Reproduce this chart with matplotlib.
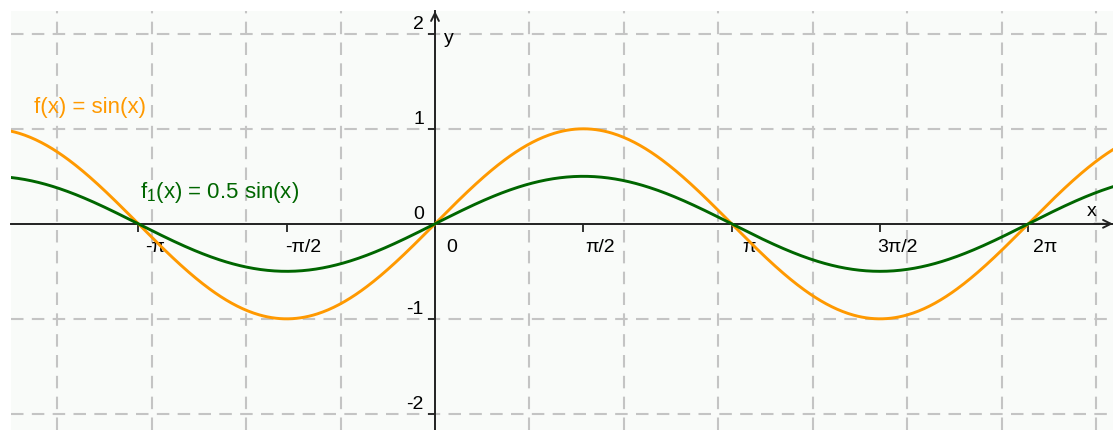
import numpy as np
import matplotlib
matplotlib.use("Agg")
import matplotlib.pyplot as plt
import matplotlib.transforms as mtransforms

plt.rcParams['font.family'] = ['Liberation Sans', 'DejaVu Sans']
plt.rcParams['mathtext.fontset'] = 'custom'
plt.rcParams['mathtext.rm'] = 'Liberation Sans'
plt.rcParams['mathtext.it'] = 'Liberation Sans'
plt.rcParams['mathtext.default'] = 'regular'

# data
names = ['f(x) = sin(x)', 'f$_{1}$(x) = 0.5 sin(x)']
amplitudes = [1.0, 0.5]
colors = ['#ff9900', '#006600']
xticks = [-np.pi, -np.pi / 2, 0, np.pi / 2, np.pi, 3 * np.pi / 2, 2 * np.pi]
xtick_labels = ['-π', '-π/2', '0', 'π/2', 'π', '3π/2', '2π']
yticks = [-2, -1, 0, 1, 2]
ytick_labels = ['-2', '-1', '0', '1', '2']
label_pos = [(-4.25, 1.22), (-3.12, 0.33)]

xmin, xmax = -4.49, 7.18
ymin, ymax = -2.17, 2.24

fig = plt.figure(figsize=(11.13, 4.30), dpi=100)
ax = fig.add_axes([11 / 1113, 0, 1102 / 1113, 419 / 430])
ax.set_facecolor('#f9fbf9')
ax.set_xlim(xmin, xmax)
ax.set_ylim(ymin, ymax)

# grid at integer units
for gx in range(-4, 8):
    if gx != 0:
        ax.axvline(gx, color='#c4c4c4', lw=1.5, dashes=(6, 4), zorder=1)
for gy in [-2, -1, 1, 2]:
    ax.axhline(gy, color='#c4c4c4', lw=1.5, dashes=(6, 4), zorder=1)

xs = np.linspace(xmin, xmax, 800)
for amp, c in zip(amplitudes, colors):
    ax.plot(xs, amp * np.sin(xs), color=c, lw=2.1, zorder=3)

for name, c, (px, py) in zip(names, colors, label_pos):
    ax.text(px, py, name, color=c, fontsize=16, va='center', ha='left', zorder=4)

# axes through origin
for side in ['top', 'right']:
    ax.spines[side].set_visible(False)
ax.spines['left'].set_position(('data', 0))
ax.spines['bottom'].set_position(('data', 0))
for side in ['left', 'bottom']:
    ax.spines[side].set_color('#222222')
    ax.spines[side].set_linewidth(1.4)
    ax.spines[side].set_zorder(2)

ax.set_xticks(xticks)
ax.set_xticklabels(xtick_labels)
ax.set_yticks(yticks)
ax.set_yticklabels(ytick_labels)
ax.tick_params(axis='x', direction='out', length=6, width=1.3, color='#222222',
               labelsize=14, pad=5)
ax.tick_params(axis='y', direction='out', length=5, width=1.3, color='#222222',
               labelsize=14, pad=3)

dx = mtransforms.ScaledTranslation(17 / 100, 0, fig.dpi_scale_trans)
for lab in ax.get_xticklabels():
    lab.set_transform(lab.get_transform() + dx)
dy = mtransforms.ScaledTranslation(0, 11 / 100, fig.dpi_scale_trans)
for lab in ax.get_yticklabels():
    lab.set_transform(lab.get_transform() + dy)

# arrow heads
ax.annotate('', xy=(xmax, 0), xytext=(xmax - 0.2, 0),
            arrowprops=dict(arrowstyle='->', color='#222222', lw=1.4,
                            mutation_scale=14, shrinkA=0, shrinkB=0),
            annotation_clip=False)
ax.annotate('', xy=(0, ymax), xytext=(0, ymax - 0.2),
            arrowprops=dict(arrowstyle='->', color='#222222', lw=1.4,
                            mutation_scale=14, shrinkA=0, shrinkB=0),
            annotation_clip=False)
ax.text(6.95, 0.13, 'x', fontsize=14, ha='center', va='center')
ax.text(0.15, 1.95, 'y', fontsize=14, ha='center', va='center')

fig.savefig('out.png', dpi=100, facecolor='white')
